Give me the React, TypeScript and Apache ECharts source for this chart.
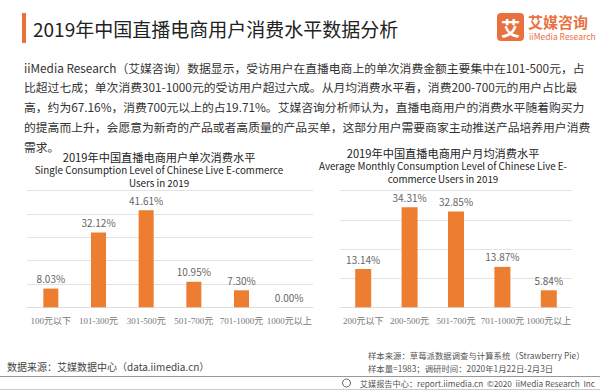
import React, { useEffect, useRef } from "react";
import * as echarts from "echarts";

const pageTitle = "2019年中国直播电商用户消费水平数据分析";
const paragraphLines = [
  "iiMedia Research（艾媒咨询）数据显示，受访用户在直播电商上的单次消费金额主要集中在101-500元，占",
  "比超过七成；单次消费301-1000元的受访用户超过六成。从月均消费水平看，消费200-700元的用户占比最",
  "高，约为67.16%，消费700元以上的占19.71%。艾媒咨询分析师认为，直播电商用户的消费水平随着购买力",
  "的提高而上升，会愿意为新奇的产品或者高质量的产品买单，这部分用户需要商家主动推送产品培养用户消费",
  "需求。",
];

const leftTitle = ["2019年中国直播电商用户单次消费水平", "Single Consumption Level of Chinese Live E-commerce", "Users in 2019"];
const leftCategories = ["100元以下", "101-300元", "301-500元", "501-700元", "701-1000元", "1000元以上"];
const leftValues = [8.03, 32.12, 41.61, 10.95, 7.3, 0.0];

const rightTitle = ["2019年中国直播电商用户月均消费水平", "Average Monthly Consumption Level of Chinese Live E-", "commerce Users in 2019"];
const rightCategories = ["200元以下", "200-500元", "501-700元", "701-1000元", "1000元以上"];
const rightValues = [13.14, 34.31, 32.85, 13.87, 5.84];

const sourceText = "数据来源：艾媒数据中心（data.iimedia.cn）";
const sampleSource = "样本来源：草莓派数据调查与计算系统（Strawberry Pie）";
const sampleSize = "样本量=1983；调研时间：2020年1月22日-2月3日";
const copyright = "艾媒报告中心：report.iimedia.cn  ©2020  iiMedia Research  Inc";

const FONT = "'Noto Sans CJK SC', 'Noto Sans', sans-serif";
const LABEL_FONT = "'Liberation Serif', 'Noto Sans CJK SC', serif";
const ORANGE = "#ED7D31";

export default function App() {
  const ref = useRef<HTMLDivElement>(null);
  useEffect(() => {
    if (!ref.current) return;
    const chart = echarts.init(ref.current, null, { renderer: "svg" });
    const txt = (x: number, y: number, text: string, size: number, color: string, align = "left", weight: any = "normal", lineHeight?: number) => ({
      type: "text",
      x,
      y,
      style: { text, fontSize: size, fill: color, fontFamily: FONT, textAlign: align, textVerticalAlign: "middle", fontWeight: weight, lineHeight },
    });
    const graphics: any[] = [
      { type: "rect", shape: { x: 22, y: 13, width: 4, height: 30 }, style: { fill: "#E8703A" } },
      txt(33, 28, pageTitle, 19, "#222"),
      { type: "rect", shape: { x: 497, y: 13, width: 27, height: 28, r: 4 }, style: { fill: "#E9713F" } },
      txt(510.5, 27.5, "艾", 19, "#fff", "center", "bold"),
      txt(528, 21, "艾媒咨询", 15, "#E9713F", "left", "bold"),
      txt(529, 36, "iiMedia Research", 8.5, "#E9713F"),
      ...paragraphLines.map((l, i) => txt(24, 67 + i * 19.8, l, 11.8, "#333")),
      txt(159, 156.5, leftTitle[0], 11.2, "#222", "center"),
      txt(159, 176.5, leftTitle[1] + "\n" + leftTitle[2], 9.8, "#222", "center", "normal", 13),
      txt(443, 152.5, rightTitle[0], 11.2, "#222", "center"),
      txt(443, 172.5, rightTitle[1] + "\n" + rightTitle[2], 9.8, "#222", "center", "normal", 13),
      txt(7, 366, sourceText, 10, "#444"),
      txt(368, 355, sampleSource, 8.4, "#555"),
      txt(368, 368, sampleSize, 8.4, "#555"),
      { type: "line", shape: { x1: 0, y1: 376.5, x2: 600, y2: 376.5 }, style: { stroke: "#999", lineWidth: 1 } },
      { type: "circle", shape: { cx: 346.5, cy: 383, r: 4 }, style: { fill: "none", stroke: "#666", lineWidth: 1 } },
      txt(595, 383, copyright, 8.2, "#555", "right"),
      { type: "line", shape: { x1: 0, y1: 389.5, x2: 600, y2: 389.5 }, style: { stroke: "#ccc", lineWidth: 1 } },
    ];
    const xAxis = (gi: number, data: string[]) => ({
      type: "category",
      gridIndex: gi,
      data,
      axisTick: { show: false },
      axisLine: { lineStyle: { color: "#ddd" } },
      axisLabel: { fontSize: 9, color: "#777", fontFamily: LABEL_FONT, margin: 9, interval: 0 },
    });
    const yAxis = (gi: number, max: number) => ({
      type: "value",
      gridIndex: gi,
      min: 0,
      max,
      interval: 10,
      axisLabel: { show: false },
      axisLine: { show: false },
      axisTick: { show: false },
      splitLine: { lineStyle: { color: "#e3e3e3" } },
    });
    const series = (gi: number, data: number[], w: number) => ({
      type: "bar",
      xAxisIndex: gi,
      yAxisIndex: gi,
      data,
      barWidth: w,
      itemStyle: { color: ORANGE },
      label: {
        show: true,
        position: "top",
        fontSize: 10,
        color: "#666",
        fontFamily: FONT,
        formatter: (p: any) => p.value.toFixed(2) + "%",
      },
    });
    chart.setOption({
      animation: false,
      backgroundColor: "#fff",
      grid: [
        { left: 27, right: 287, top: 190.7, bottom: 82.7 },
        { left: 340, right: 28, top: 190.7, bottom: 82.7 },
      ],
      xAxis: [xAxis(0, leftCategories), xAxis(1, rightCategories)],
      yAxis: [yAxis(0, 50), yAxis(1, 40)],
      series: [series(0, leftValues, 15), series(1, rightValues, 16)],
      graphic: graphics,
    });
    return () => chart.dispose();
  }, []);
  return <div ref={ref} style={{ position: "absolute", left: 0, top: 0, width: 600, height: 390 }} />;
}
